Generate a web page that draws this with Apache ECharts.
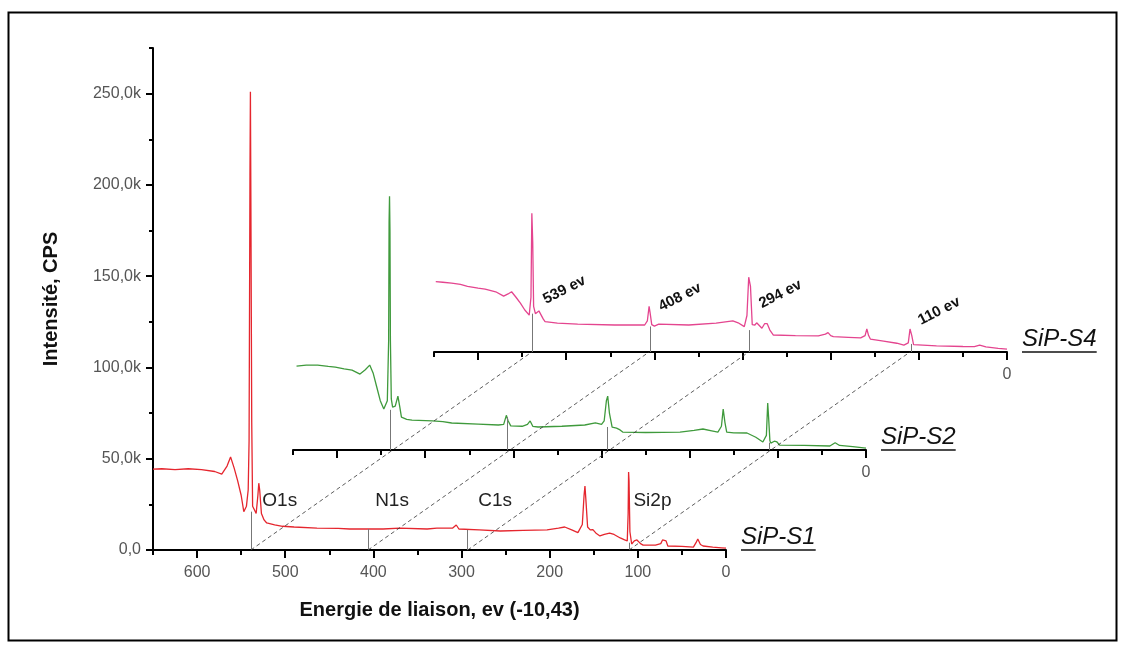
<!DOCTYPE html>
<html><head><meta charset="utf-8">
<script src="https://cdn.jsdelivr.net/npm/echarts@6/dist/echarts.min.js"></script>
<style>html,body{margin:0;padding:0;background:#fff}#c{width:1125px;height:653px}</style>
</head><body><div id="c"></div>
<script>
// ---------- DATA (energy in eV, intensity in k CPS) ----------
const s1Energy = [650,640,625,610,595,580,572,566,562,558,554,550,547,544,542,541,540,539.5,539,538,537,535,533,531,530,529,527,524,521,512,503,490,464,440,427,400,389,370,339,328,310,306,303,280,256,230,203,190,183,175,168,163,161,160,159,157,154,151,147,143,138,132,127,120,115,112,111,110.5,110,109,107,104,101,97,94,80,74,72,68,66,50,37,34,32,29,26,15,5,0];
const s1Intensity = [44.3,44.5,44,44.5,44,43,41.6,46,51,45,38,30,21,24,33,60,205,251,195,70,24,22,20,30,36.6,33,20,16.5,14.8,13.8,13,12.6,12,11.8,11.5,11.5,11.5,12,11.5,12,12,13.7,11.5,11,10.4,10.8,11,12,12.6,11,9.5,14,30,35,28,12.6,11,11.2,9,7.7,8.5,9.3,8.5,6.6,5.5,5,20,42.7,38,10,3.3,5,5.5,3.5,2.7,2.7,3.5,5.5,5,2.2,2,1.6,4,6,3,2.2,1.6,1.2,1];

const s2Energy = [646,635,622,610,602,592,583,574,568,563,559,555,551,547,545,543,541.5,541,540.5,540,539.5,538.5,537,534,531,529,527,521,515,492,480,470,440,417,411,408,407,406,403,390,384,381,378,372,345,319,307,300,297,294.5,293,291,288,283,279,276,250,211,195,185,175,168,164,162,160,158,150,135,125,117,113,111.5,110.5,109,108,104,101,98,70,41,35,33,30,29,15,0];
const s2Intensity = [46,46.5,46.5,45.8,45.4,44.5,43.8,41.6,44,46.5,42,34.5,27,22.4,23,27,60,125,139,120,60,28,23.5,24,29.5,24,18,16.8,16.4,15.9,15.5,14.8,14.2,13.7,14,19,20,16,13.2,13,14,15.9,13,12.6,13,13.7,14.8,14,16,27,29.5,20,12.5,12,11,9.8,9.6,9.8,10.8,11.5,10.5,9.8,13,22.4,15,9.8,9.4,9.3,7,4.4,8,25.7,18,5,3.8,4.8,4.4,2.7,2.5,2.2,4,4.9,2.5,2.2,1.8,1];

const s4Energy = [648,640,630,620,612,600,592,580,571,566,562,557,552,547,542,540,539,538,537,535,531,529,526,524,510,487,445,411,408,406,405,403,400,395,361,330,311,305,298,295,293,291,289,286,284,281,278,275,272,269,265,240,214,206,203,200,197,180,166,161,159,157,155,140,125,117,112,110,108,106,104,80,50,37,31,29,24,10,0];
const s4Intensity = [38.5,38.2,37.7,37,36,35,34.4,33,30.6,31.8,33,30,26.8,23,20.2,30,76,60,25,21,22.5,23,18,16.6,15.8,15.3,14.8,14.8,17,25,22,15,14.2,15.3,14.8,15.8,17,16,13.9,20,41,36,15,14.8,16,14.5,13,15.5,15.5,12,9.3,9,8.8,9.8,10.6,9,8.4,8,7.7,9,12.6,9,7.1,6,4.8,3.8,5,12.6,9,4,3.8,3.4,3,2.9,3.8,3.8,2.8,2,1.6];

const seriesNames = ['SiP-S1','SiP-S2','SiP-S4'];
const seriesColors = ['#e5262e','#3f9a3c','#e4458f'];

const xMajorTicks = [0,100,200,300,400,500,600];
const xMinorTicks = [50,150,250,350,450,550,650];
const xTickLabels = ['0','100','200','300','400','500','600'];
const yMajorTicks = [0,50,100,150,200,250];
const yMinorTicks = [25,75,125,175,225,275];
const yTickLabels = ['0,0','50,0k','100,0k','150,0k','200,0k','250,0k'];

const peakEnergies = [539,406,293,110];          // dashed guide lines
const s1DropE = [539,406,293,110], s1DropI = [21,11.5,11,4];
const s2DropE = [540,407,293,110], s2DropI = [22,18,12.6,4];
const s4DropE = [538,405,292,109], s4DropI = [21,14,12,4.4];
const peakNames = ['O1s','N1s','C1s','Si2p'];
const peakNameE = [526,398,281,105];
const peakNameI = [27,27,27,27];
const evLabels = ['539 ev','408 ev','294 ev','110 ev'];
const evLabelE = [502,371,257,77];
const evLabelI = [34,30,31.7,22.4];

// ---------- LAYOUT ----------
const PX_PER_K = 502/275;
const FONT = '"Liberation Sans", Arial, sans-serif';
const grids = [
  {left:153, width:573, top:48, height:502},
  {left:293, width:573, top:450-160*PX_PER_K, height:160*PX_PER_K},
  {left:434, width:573, top:352-100*PX_PER_K, height:100*PX_PER_K}
];
const yMax = [275,160,100];

function xMajor(g, labelVals, extra){
  return Object.assign({type:'value', gridIndex:g, min:0, max:650, inverse:true, position:'bottom',
    axisLine:{show:true, onZero:false, lineStyle:{color:'#000', width:2}},
    splitLine:{show:false},
    axisTick:{show:true, inside:false, customValues:xMajorTicks, length:8, lineStyle:{color:'#000', width:2}},
    axisLabel:{show:true, customValues:labelVals, color:'#555', fontSize:16, margin:15, fontFamily:FONT,
      formatter:v=>xTickLabels[xMajorTicks.indexOf(v)]}}, extra||{});
}
function xMinor(g){
  return {type:'value', gridIndex:g, min:0, max:650, inverse:true, position:'bottom',
    axisLine:{show:false, onZero:false}, splitLine:{show:false},
    axisTick:{show:true, customValues:xMinorTicks, length:5, lineStyle:{color:'#000', width:2}},
    axisLabel:{show:false}};
}

const xAxes = [
  xMajor(0, xMajorTicks, {name:'Energie de liaison, ev (-10,43)', nameLocation:'middle', nameGap:50,
    nameTextStyle:{fontSize:20, fontWeight:'bold', color:'#111', fontFamily:FONT}}),
  xMinor(0),
  xMajor(1,[0]), xMinor(1),
  xMajor(2,[0]), xMinor(2)
];
const yAxes = [
  {type:'value', gridIndex:0, min:0, max:275, position:'left',
    axisLine:{show:true, onZero:false, lineStyle:{color:'#000', width:2}}, splitLine:{show:false},
    axisTick:{show:true, customValues:yMajorTicks, length:7, lineStyle:{color:'#000', width:2}},
    axisLabel:{show:true, customValues:yMajorTicks, color:'#555', fontSize:16, margin:12, fontFamily:FONT,
      formatter:v=>yTickLabels[yMajorTicks.indexOf(v)]},
    name:'Intensité, CPS', nameLocation:'middle', nameGap:92,
    nameTextStyle:{fontSize:20, fontWeight:'bold', color:'#111', fontFamily:FONT}},
  {type:'value', gridIndex:0, min:0, max:275, position:'left',
    axisLine:{show:false, onZero:false}, splitLine:{show:false},
    axisTick:{show:true, customValues:yMinorTicks, length:4, lineStyle:{color:'#000', width:2}},
    axisLabel:{show:false}},
  {type:'value', gridIndex:1, min:0, max:yMax[1], show:false},
  {type:'value', gridIndex:2, min:0, max:yMax[2], show:false}
];

function pairs(e,i){ return e.map((x,k)=>[x,i[k]]); }
function drops(e,i){ return e.map((x,k)=>[{coord:[x,0]},{coord:[x,i[k]]}]); }

const specs = [
  {E:s1Energy, I:s1Intensity, dE:s1DropE, dI:s1DropI, xi:0, yi:0},
  {E:s2Energy, I:s2Intensity, dE:s2DropE, dI:s2DropI, xi:2, yi:2},
  {E:s4Energy, I:s4Intensity, dE:s4DropE, dI:s4DropI, xi:4, yi:3}
];
const series = specs.map((s,k)=>({
  name:seriesNames[k], type:'line', xAxisIndex:s.xi, yAxisIndex:s.yi,
  data:pairs(s.E,s.I), showSymbol:false, symbol:'none', clip:false, animation:false,
  lineStyle:{color:seriesColors[k], width:1.3},
  markLine:{silent:true, symbol:'none', animation:false, label:{show:false},
    lineStyle:{color:'#777', width:1, type:'solid'}, data:drops(s.dE,s.dI)}
}));

const chart = echarts.init(document.getElementById('c'), null, {renderer:'canvas'});
chart.setOption({
  animation:false, backgroundColor:'#fff',
  grid:grids, xAxis:xAxes, yAxis:yAxes, series:series
});

// ---------- annotations placed through the chart's own scales ----------
const g0 = {xAxisIndex:0, yAxisIndex:0};
const g1 = {xAxisIndex:2, yAxisIndex:2};
const g2 = {xAxisIndex:4, yAxisIndex:3};
const graphics = [];
graphics.push({type:'rect', shape:{x:8.5, y:12.5, width:1108, height:628}, style:{fill:'none', stroke:'#000', lineWidth:2}, z:100});
peakEnergies.forEach(e=>{
  const a = chart.convertToPixel(g0,[e,0]);
  const b = chart.convertToPixel(g2,[e,0]);
  graphics.push({type:'line', shape:{x1:a[0], y1:a[1], x2:b[0], y2:b[1]},
    style:{stroke:'#333', lineWidth:0.8, lineDash:[4,3]}, z:50});
});
peakNames.forEach((t,k)=>{
  const p = chart.convertToPixel(g0,[peakNameE[k], peakNameI[k]]);
  graphics.push({type:'text', x:p[0], y:p[1], style:{text:t, font:'19px '+FONT, fill:'#222', align:'left', verticalAlign:'middle'}, z:60});
});
evLabels.forEach((t,k)=>{
  const p = chart.convertToPixel(g2,[evLabelE[k], evLabelI[k]]);
  graphics.push({type:'text', x:p[0], y:p[1], rotation:27*Math.PI/180,
    style:{text:t, font:'bold 15px '+FONT, fill:'#111', align:'center', verticalAlign:'middle'}, z:60});
});
const ctx = document.createElement('canvas').getContext('2d');
const nameFont = 'italic 24px '+FONT;
ctx.font = nameFont;
[g0,g1,g2].forEach((g,k)=>{
  const p = chart.convertToPixel(g,[0,0]);
  const x = p[0]+15, y = p[1]-13;
  const w = ctx.measureText(seriesNames[k]).width;
  graphics.push({type:'text', x:x, y:y, style:{text:seriesNames[k], font:nameFont, fill:'#111', align:'left', verticalAlign:'middle'}, z:60});
  graphics.push({type:'line', shape:{x1:x, y1:y+13, x2:x+w, y2:y+13}, style:{stroke:'#111', lineWidth:1.4}, z:60});
});
chart.setOption({graphic:graphics});
</script></body></html>
